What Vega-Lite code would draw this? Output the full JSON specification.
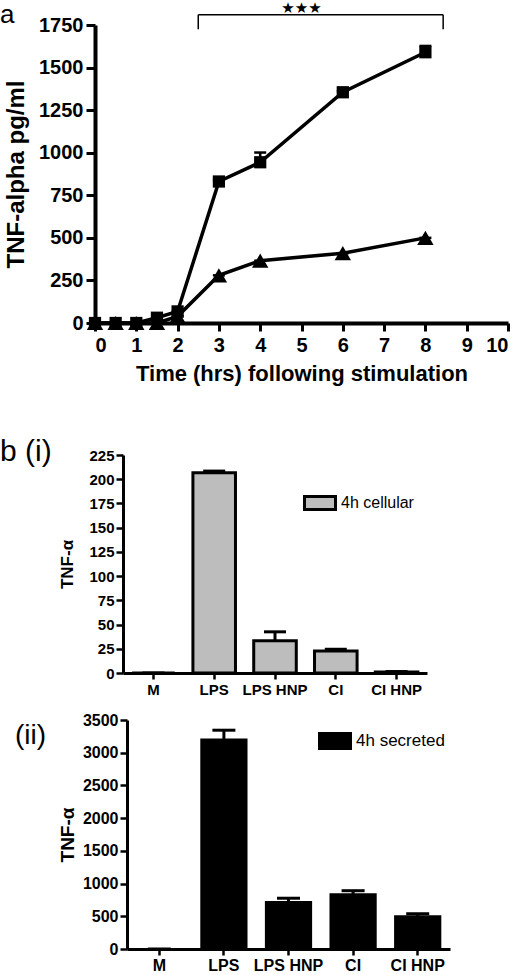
{
  "$schema": "https://vega.github.io/schema/vega-lite/v6.json",
  "padding": 0,
  "autosize": {"type": "pad"},
  "background": "white",
  "columns": 1,
  "align": "none",
  "spacing": 53,
  "resolve": {"scale": {"fill": "independent"}, "legend": {"fill": "independent"}},
  "config": {
    "view": {"stroke": null},
    "axis": {
      "grid": false,
      "domainColor": "black",
      "tickColor": "black",
      "labelColor": "black",
      "titleColor": "black",
      "labelFont": "Liberation Sans",
      "titleFont": "Liberation Sans",
      "labelFontWeight": "bold",
      "titleFontWeight": "bold"
    },
    "title": {"font": "Liberation Sans", "fontWeight": "normal", "color": "black", "anchor": "start", "frame": "group"}
  },
  "datasets": {
    "timecourse": [
      {"time": 0, "series": "A", "tnf": 0, "hi": 0},
      {"time": 0.5, "series": "A", "tnf": 0, "hi": 0},
      {"time": 1, "series": "A", "tnf": 0, "hi": 0},
      {"time": 1.5, "series": "A", "tnf": 31, "hi": 31},
      {"time": 2, "series": "A", "tnf": 68, "hi": 68},
      {"time": 3, "series": "A", "tnf": 831, "hi": 838},
      {"time": 4, "series": "A", "tnf": 944, "hi": 1001},
      {"time": 6, "series": "A", "tnf": 1355, "hi": 1362},
      {"time": 8, "series": "A", "tnf": 1590, "hi": 1627},
      {"time": 0, "series": "B", "tnf": 0, "hi": 0},
      {"time": 0.5, "series": "B", "tnf": 0, "hi": 0},
      {"time": 1, "series": "B", "tnf": 0, "hi": 0},
      {"time": 1.5, "series": "B", "tnf": 0, "hi": 0},
      {"time": 2, "series": "B", "tnf": 39, "hi": 39},
      {"time": 3, "series": "B", "tnf": 280, "hi": 280},
      {"time": 4, "series": "B", "tnf": 366, "hi": 366},
      {"time": 6, "series": "B", "tnf": 410, "hi": 410},
      {"time": 8, "series": "B", "tnf": 500, "hi": 500}
    ],
    "bracket": [
      {"x0": 2.5, "x1": 8.43, "y0": 1810, "y1": 1810},
      {"x0": 2.5, "x1": 2.5, "y0": 1725, "y1": 1810},
      {"x0": 8.43, "x1": 8.43, "y0": 1725, "y1": 1810}
    ],
    "stars": [
      {"x": 5, "y": 1850, "label": "★★★"}
    ],
    "cellular": [
      {"cat": "M", "tnf": 0, "hi": 0, "group": "4h cellular"},
      {"cat": "LPS", "tnf": 206.7, "hi": 208.4, "group": "4h cellular"},
      {"cat": "LPS HNP", "tnf": 33.4, "hi": 42.5, "group": "4h cellular"},
      {"cat": "CI", "tnf": 22.7, "hi": 24.5, "group": "4h cellular"},
      {"cat": "CI HNP", "tnf": 1.0, "hi": 1.5, "group": "4h cellular"}
    ],
    "secreted": [
      {"cat": "M", "tnf": 0, "hi": 0, "group": "4h secreted"},
      {"cat": "LPS", "tnf": 3203, "hi": 3344, "group": "4h secreted"},
      {"cat": "LPS HNP", "tnf": 720, "hi": 776, "group": "4h secreted"},
      {"cat": "CI", "tnf": 836, "hi": 891, "group": "4h secreted"},
      {"cat": "CI HNP", "tnf": 499, "hi": 539, "group": "4h secreted"}
    ]
  },
  "concat": [
    {
      "width": 413,
      "height": 298,
      "title": {"text": "a", "fontSize": 26, "dx": -95, "offset": -27},
      "encoding": {
        "x": {
          "field": "time", "type": "quantitative",
          "scale": {"domain": [0, 10], "nice": false},
          "axis": {
            "values": [0, 1, 2, 3, 4, 5, 6, 7, 8, 9, 10],
            "format": "d",
            "title": "Time (hrs) following stimulation",
            "labelFontSize": 20, "titleFontSize": 22,
            "tickSize": 8, "tickWidth": 3, "domainWidth": 4,
            "labelPadding": 4, "titlePadding": 8
          }
        },
        "y": {
          "field": "tnf", "type": "quantitative",
          "scale": {"domain": [0, 1750], "nice": false},
          "axis": {
            "values": [0, 250, 500, 750, 1000, 1250, 1500, 1750],
            "format": "d",
            "title": "TNF-alpha pg/ml",
            "labelFontSize": 20, "titleFontSize": 24,
            "tickSize": 9, "tickWidth": 3, "domainWidth": 4,
            "labelPadding": 3, "titlePadding": 10
          }
        }
      },
      "layer": [
        {
          "data": {"name": "timecourse"},
          "mark": {"type": "line", "color": "black", "strokeWidth": 3.5},
          "encoding": {"detail": {"field": "series"}}
        },
        {
          "data": {"name": "timecourse"},
          "mark": {"type": "rule", "color": "black", "strokeWidth": 2.5},
          "encoding": {"y2": {"field": "hi"}}
        },
        {
          "data": {"name": "timecourse"},
          "mark": {"type": "tick", "orient": "horizontal", "color": "black", "thickness": 2.5, "size": 12, "opacity": 1},
          "encoding": {"y": {"field": "hi", "type": "quantitative"}}
        },
        {
          "data": {"name": "timecourse"},
          "mark": {"type": "point", "filled": true, "color": "black", "opacity": 1},
          "encoding": {
            "shape": {"field": "series", "type": "nominal", "scale": {"domain": ["A", "B"], "range": ["square", "triangle-up"]}, "legend": null},
            "size": {"condition": {"test": "datum.series === 'B'", "value": 270}, "value": 150}
          }
        },
        {
          "data": {"name": "bracket"},
          "mark": {"type": "rule", "color": "black", "strokeWidth": 1.5},
          "encoding": {
            "x": {"field": "x0", "type": "quantitative"},
            "x2": {"field": "x1"},
            "y": {"field": "y0", "type": "quantitative"},
            "y2": {"field": "y1"}
          }
        },
        {
          "data": {"name": "stars"},
          "mark": {"type": "text", "fontSize": 15, "font": "DejaVu Sans", "color": "black", "baseline": "middle"},
          "encoding": {
            "x": {"field": "x", "type": "quantitative"},
            "y": {"field": "y", "type": "quantitative"},
            "text": {"field": "label"}
          }
        }
      ]
    },
    {
      "columns": 1,
      "align": "none",
      "spacing": 15,
      "resolve": {"scale": {"fill": "independent"}, "legend": {"fill": "independent"}},
      "concat": [
        {
          "width": 332,
          "height": 218,
          "title": {"text": "b (i)", "fontSize": 30, "dx": -95, "offset": -19},
          "data": {"name": "cellular"},
          "encoding": {
            "x": {
              "field": "cat", "type": "nominal", "sort": null,
              "scale": {"paddingInner": 0.3, "paddingOuter": 0.15, "range": [28, 332]},
              "axis": {
                "title": null, "labelAngle": 0,
                "labelFontSize": 15, "tickSize": 6, "tickWidth": 2.5, "domainWidth": 3, "labelPadding": 3
              }
            },
            "y": {
              "field": "tnf", "type": "quantitative",
              "scale": {"domain": [0, 225], "nice": false},
              "axis": {
                "offset": -28,
                "values": [0, 25, 50, 75, 100, 125, 150, 175, 200, 225],
                "format": "d",
                "title": "TNF-α",
                "labelFontSize": 15, "titleFontSize": 17,
                "tickSize": 7, "tickWidth": 2.5, "domainWidth": 3,
                "labelPadding": 2, "titlePadding": 12
              }
            }
          },
          "layer": [
            {
              "mark": {"type": "rule", "color": "black", "strokeWidth": 3},
              "encoding": {"y2": {"field": "hi"}}
            },
            {
              "mark": {"type": "tick", "orient": "horizontal", "color": "black", "thickness": 3, "size": 22, "opacity": 1},
              "encoding": {"y": {"field": "hi", "type": "quantitative"}}
            },
            {
              "mark": {"type": "bar", "stroke": "black", "strokeWidth": 3, "opacity": 1},
              "encoding": {
                "fill": {
                  "field": "group", "type": "nominal",
                  "scale": {"range": ["#bdbdbd"]},
                  "legend": {
                    "orient": "none", "legendX": 208, "legendY": 31, "title": null, "padding": 0,
                    "symbolType": "M-1,-0.42H1V0.42H-1Z", "symbolSize": 961,
                    "symbolStrokeColor": "black", "symbolStrokeWidth": 3, "symbolOpacity": 1,
                    "labelFont": "Liberation Sans", "labelFontSize": 16, "labelColor": "black", "labelOffset": 4
                  }
                }
              }
            }
          ]
        },
        {
          "width": 355,
          "height": 229,
          "title": {"text": "(ii)", "fontSize": 28, "dx": -80, "offset": -38},
          "data": {"name": "secreted"},
          "encoding": {
            "x": {
              "field": "cat", "type": "nominal", "sort": null,
              "scale": {"paddingInner": 0.3, "paddingOuter": 0.15, "range": [32, 355]},
              "axis": {
                "title": null, "labelAngle": 0,
                "labelFontSize": 16, "tickSize": 6, "tickWidth": 2.5, "domainWidth": 3, "labelPadding": 2
              }
            },
            "y": {
              "field": "tnf", "type": "quantitative",
              "scale": {"domain": [0, 3500], "nice": false},
              "axis": {
                "offset": -32,
                "values": [0, 500, 1000, 1500, 2000, 2500, 3000, 3500],
                "format": "d",
                "title": "TNF-α",
                "labelFontSize": 16, "titleFontSize": 19,
                "tickSize": 7, "tickWidth": 2.5, "domainWidth": 3,
                "labelPadding": 2, "titlePadding": 5
              }
            }
          },
          "layer": [
            {
              "mark": {"type": "rule", "color": "black", "strokeWidth": 3},
              "encoding": {"y2": {"field": "hi"}}
            },
            {
              "mark": {"type": "tick", "orient": "horizontal", "color": "black", "thickness": 3, "size": 23, "opacity": 1},
              "encoding": {"y": {"field": "hi", "type": "quantitative"}}
            },
            {
              "mark": {"type": "bar", "stroke": "black", "strokeWidth": 2, "opacity": 1},
              "encoding": {
                "fill": {
                  "field": "group", "type": "nominal",
                  "scale": {"range": ["black"]},
                  "legend": {
                    "orient": "none", "legendX": 223, "legendY": 4, "title": null, "padding": 0,
                    "symbolType": "M-1,-0.5H1V0.5H-1Z", "symbolSize": 1024,
                    "symbolStrokeColor": "black", "symbolStrokeWidth": 2, "symbolOpacity": 1,
                    "labelFont": "Liberation Sans", "labelFontSize": 17, "labelColor": "black", "labelOffset": 4
                  }
                }
              }
            }
          ]
        }
      ]
    }
  ]
}
